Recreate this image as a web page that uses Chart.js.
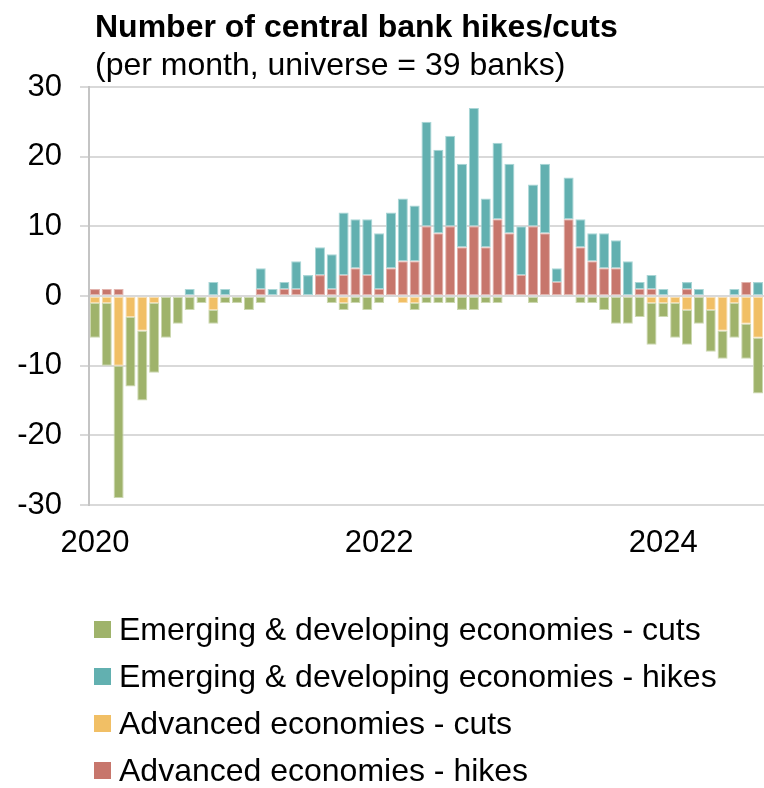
<!DOCTYPE html>
<html>
<head>
<meta charset="utf-8">
<title>Central bank hikes and cuts</title>
<script src="https://cdn.jsdelivr.net/npm/chart.js@4.4.1/dist/chart.umd.min.js"></script>
<style>
  html, body { margin: 0; padding: 0; background: #fff; }
  body {
    position: relative;
    width: 764px;
    height: 788px;
    overflow: hidden;
    font-family: "Liberation Sans", Arial, sans-serif;
    color: #000;
  }
  #ratesChart { position: absolute; left: 0; top: 0; }
  .chart-title {
    position: absolute;
    left: 95px;
    top: 10px;
    font-size: 32px;
    font-weight: bold;
    line-height: 32px;
    white-space: nowrap;
  }
  .chart-subtitle {
    position: absolute;
    left: 95px;
    top: 48px;
    font-size: 32px;
    line-height: 32px;
    white-space: nowrap;
  }
  #legend {
    position: absolute;
    left: 94px;
    top: 606px;
    margin: 0;
    padding: 0;
    list-style: none;
  }
  #legend li {
    display: flex;
    align-items: center;
    height: 47px;
    font-size: 32px;
    line-height: 47px;
    white-space: nowrap;
  }
  #legend .swatch {
    flex: none;
    width: 17px;
    height: 17px;
    margin-right: 8px;
  }
</style>
</head>
<body>
<canvas id="ratesChart" width="764" height="788"></canvas>
<div class="chart-title">Number of central bank hikes/cuts</div>
<div class="chart-subtitle">(per month, universe = 39 banks)</div>
<ul id="legend"></ul>

<script>
// one category per month, Jan 2020 .. Sep 2024
const months = [
  "2020-01", "2020-02", "2020-03", "2020-04", "2020-05", "2020-06",
  "2020-07", "2020-08", "2020-09", "2020-10", "2020-11", "2020-12",
  "2021-01", "2021-02", "2021-03", "2021-04", "2021-05", "2021-06",
  "2021-07", "2021-08", "2021-09", "2021-10", "2021-11", "2021-12",
  "2022-01", "2022-02", "2022-03", "2022-04", "2022-05", "2022-06",
  "2022-07", "2022-08", "2022-09", "2022-10", "2022-11", "2022-12",
  "2023-01", "2023-02", "2023-03", "2023-04", "2023-05", "2023-06",
  "2023-07", "2023-08", "2023-09", "2023-10", "2023-11", "2023-12",
  "2024-01", "2024-02", "2024-03", "2024-04", "2024-05", "2024-06",
  "2024-07", "2024-08", "2024-09",
];
const yearTicks = ["2020", "2022", "2024"];

// counts of banks per month (cuts negative)
const aeHikes = [
  1, 1, 1, 0, 0, 0, 0, 0, 0, 0, 0, 0,
  0, 0, 1, 0, 1, 1, 0, 3, 1, 3, 4, 3,
  1, 4, 5, 5, 10, 9, 10, 7, 10, 7, 11, 9,
  3, 10, 9, 2, 11, 7, 5, 4, 4, 0, 1, 1,
  0, 0, 1, 0, 0, 0, 0, 2, 0,
];
const emHikes = [
  0, 0, 0, 0, 0, 0, 0, 0, 1, 0, 2, 1,
  0, 0, 3, 1, 1, 4, 3, 4, 5, 9, 7, 8,
  8, 8, 9, 8, 15, 12, 13, 12, 17, 7, 11, 10,
  7, 6, 10, 2, 6, 4, 4, 5, 4, 5, 1, 2,
  1, 0, 1, 1, 0, 0, 1, 0, 2,
];
const aeCuts = [
  -1, -1, -10, -3, -5, -1, 0, 0, 0, 0, -2, 0,
  0, 0, 0, 0, 0, 0, 0, 0, 0, -1, 0, 0,
  0, 0, -1, -1, 0, 0, 0, 0, 0, 0, 0, 0,
  0, 0, 0, 0, 0, 0, 0, 0, 0, 0, 0, -1,
  -1, -1, -2, 0, -2, -5, -1, -4, -6,
];
const emCuts = [
  -5, -9, -19, -10, -10, -10, -6, -4, -2, -1, -2, -1,
  -1, -2, -1, 0, 0, 0, 0, 0, -1, -1, -1, -2,
  -1, 0, 0, -1, -1, -1, -1, -2, -2, -1, -1, 0,
  0, -1, 0, 0, 0, -1, -1, -2, -4, -4, -3, -6,
  -2, -5, -5, -4, -6, -4, -5, -5, -8,
];

const GREEN = "#9fb36b";
const TEAL = "#62b0b0";
const YELLOW = "#f1bf65";
const RED = "#c7766c";

// datasets are listed in stacking order (closest to zero first)
const datasets = [
  { label: "Advanced economies - hikes", data: aeHikes, backgroundColor: RED, borderColor: "#e2b3ad" },
  { label: "Emerging & developing economies - hikes", data: emHikes, backgroundColor: TEAL, borderColor: "#a9d6d6" },
  { label: "Advanced economies - cuts", data: aeCuts, backgroundColor: YELLOW, borderColor: "#f8deaf" },
  { label: "Emerging & developing economies - cuts", data: emCuts, backgroundColor: GREEN, borderColor: "#ccd8b0" },
].map((ds) => ({
  ...ds,
  stack: "banks",
  borderWidth: 1,
  borderSkipped: false,
  barPercentage: 0.85,
  categoryPercentage: 1,
}));

const legendOrder = [
  "Emerging & developing economies - cuts",
  "Emerging & developing economies - hikes",
  "Advanced economies - cuts",
  "Advanced economies - hikes",
];

Chart.defaults.font.family = '"Liberation Sans", Arial, sans-serif';
Chart.defaults.color = "#000";

const chart = new Chart(document.getElementById("ratesChart"), {
  type: "bar",
  data: { labels: months, datasets },
  options: {
    responsive: false,
    animation: false,
    devicePixelRatio: 1,
    layout: { padding: { top: 87, right: 0, bottom: 0, left: 0 } },
    plugins: {
      legend: { display: false },
      tooltip: { enabled: false },
    },
    scales: {
      x: {
        stacked: true,
        grid: { display: false, drawTicks: false },
        border: { display: true, color: "#d9d9d9", width: 2 },
        ticks: {
          autoSkip: false,
          maxRotation: 0,
          minRotation: 0,
          padding: 20,
          font: { size: 31 },
          callback(value) {
            const [year, month] = months[value].split("-");
            return month === "01" && yearTicks.includes(year) ? year : "";
          },
        },
        afterFit(scale) {
          // plot runs right to the canvas edge
          scale.height = 283;
          scale.paddingLeft = 0;
          scale.paddingRight = 0;
        },
      },
      y: {
        stacked: true,
        min: -30,
        max: 30,
        ticks: { stepSize: 10, padding: 18, font: { size: 31 } },
        grid: { color: "#d9d9d9", lineWidth: 2, tickLength: 9 },
        border: { color: "#c4c4c4", width: 2 },
        afterFit(scale) {
          scale.width = 89;
        },
      },
    },
  },
});

// legend built from the chart's own datasets
const legendEl = document.getElementById("legend");
legendOrder.forEach((name) => {
  const ds = chart.data.datasets.find((d) => d.label === name);
  const li = document.createElement("li");
  const box = document.createElement("span");
  box.className = "swatch";
  box.style.background = ds.backgroundColor;
  li.appendChild(box);
  li.appendChild(document.createTextNode(ds.label));
  legendEl.appendChild(li);
});
</script>
</body>
</html>
